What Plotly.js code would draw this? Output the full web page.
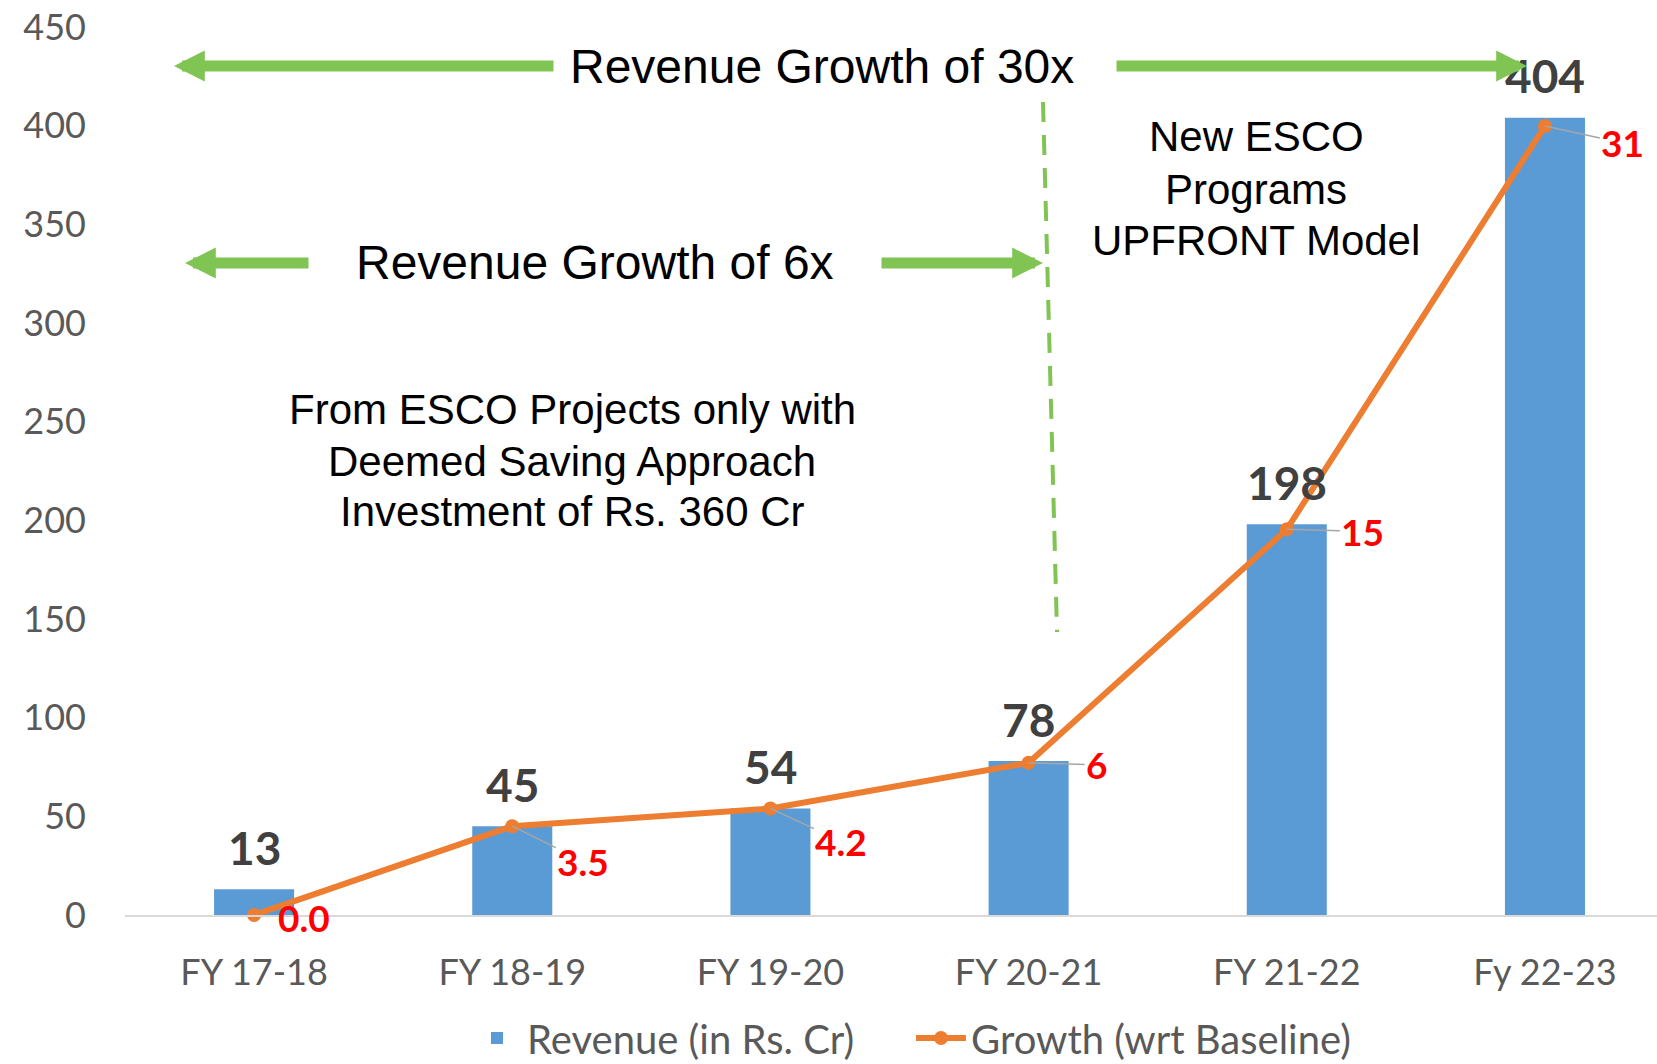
<!DOCTYPE html>
<html>
<head>
<meta charset="utf-8">
<script src="https://cdn.plot.ly/plotly-3.0.1.min.js"></script>
<style>
  html, body { margin: 0; padding: 0; background: #fff; }
  #chart { width: 1657px; height: 1064px; }
</style>
</head>
<body>
<div id="chart"></div>
<script>
// ---- data ----
const categories = ['FY 17-18', 'FY 18-19', 'FY 19-20', 'FY 20-21', 'FY 21-22', 'Fy 22-23'];
const revenue = [13, 45, 54, 78, 198, 404];
const growth = [0, 3.5, 4.2, 6, 15.2, 31.1];
const growthLabels = ['0.0', '3.5', '4.2', '6', '15', '31'];
const yTicks = [0, 50, 100, 150, 200, 250, 300, 350, 400, 450];
const seriesNames = ['Revenue (in Rs. Cr)', 'Growth (wrt Baseline)'];

// ---- styling / placement ----
const W = 1657, H = 1064;
const L = 125, T = 27, B = 149;
const plotW = W - L, plotH = H - T - B;
const px2x = px => (px - L) / plotW;
const py2y = py => (H - B - py) / plotH;
const GREEN = '#80C553';
const labelOffsets = [[50, 2, false], [71, 35, true], [71, 33, true], [68, 2, true], [76, 2, true], [78, 17, true]];

const traces = [
  {
    type: 'bar',
    x: categories,
    y: revenue,
    name: seriesNames[0],
    marker: { color: '#5B9BD5' },
    hoverinfo: 'x+y'
  },
  {
    type: 'scatter',
    mode: 'lines+markers',
    x: categories,
    y: growth,
    yaxis: 'y2',
    name: seriesNames[1],
    line: { color: '#ED7D31', width: 6 },
    marker: { color: '#ED7D31', size: 14 },
    cliponaxis: false
  }
];

const annotations = [];

// bar value labels
categories.forEach((c, i) => {
  annotations.push({
    x: c, y: revenue[i], xref: 'x', yref: 'y',
    text: String(revenue[i]), showarrow: false,
    yanchor: 'middle', yshift: 42,
    font: { family: 'Lato, sans-serif', size: 46, color: '#404040', weight: 700 }
  });
});

// growth labels with leader lines
categories.forEach((c, i) => {
  const [ox, oy, lead] = labelOffsets[i];
  const a = {
    x: c, y: growth[i], xref: 'x', yref: 'y2',
    text: growthLabels[i],
    font: { family: 'Lato, sans-serif', size: 37, color: '#FF0000', weight: 700 }
  };
  if (lead) {
    Object.assign(a, { showarrow: true, arrowhead: 0, arrowwidth: 1.5, arrowcolor: '#A6A6A6', ax: ox, ay: oy });
  } else {
    Object.assign(a, { showarrow: false, xshift: ox, yshift: -oy });
  }
  annotations.push(a);
});

// text blocks
const txtFont = { family: 'Liberation Sans, Arial, sans-serif', size: 42, color: '#000000' };
const bigFont = { family: 'Liberation Sans, Arial, sans-serif', size: 48, color: '#000000' };
function txt(text, px, py, font) {
  annotations.push({ xref: 'paper', yref: 'paper', x: px2x(px), y: py2y(py), text: text,
    showarrow: false, xanchor: 'center', yanchor: 'middle', font: font });
}
txt('Revenue Growth of 30x', 822, 66, bigFont);
txt('Revenue Growth of 6x', 595, 263, bigFont);
txt('From ESCO Projects only with', 572, 409, txtFont);
txt('Deemed Saving Approach', 572, 461, txtFont);
txt('Investment of Rs. 360 Cr', 572, 511, txtFont);
txt('New ESCO', 1256, 137, txtFont);
txt('Programs', 1256, 190, txtFont);
txt('UPFRONT Model', 1256, 241, txtFont);

// green arrows
function arrow(tipPx, tipPy, tailPx) {
  annotations.push({ xref: 'paper', yref: 'paper', x: px2x(tipPx), y: py2y(tipPy),
    ax: tailPx - tipPx, ay: 0, text: '', showarrow: true,
    arrowhead: 2, arrowsize: 0.56, arrowwidth: 11, arrowcolor: GREEN });
}
arrow(174, 66, 555);
arrow(1527, 66, 1115);
arrow(185, 263, 310);
arrow(1043, 263, 880);

const shapes = [
  { type: 'line', xref: 'paper', yref: 'paper',
    x0: px2x(1043), y0: py2y(102), x1: px2x(1057), y1: py2y(632),
    line: { color: GREEN, width: 4, dash: '20px,13px' } }
];

const layout = {
  width: W, height: H,
  margin: { l: L, r: 0, t: T, b: B, pad: 0 },
  paper_bgcolor: '#ffffff',
  plot_bgcolor: '#ffffff',
  showlegend: true,
  bargap: 0.69,
  xaxis: {
    type: 'category',
    range: [-0.5, 5.434],
    showline: true, linecolor: '#D9D9D9', linewidth: 2,
    showgrid: false, zeroline: false, ticks: '',
    ticklabelstandoff: 25,
    tickfont: { family: 'Lato, sans-serif', size: 36, color: '#595959' }
  },
  yaxis: {
    range: [0, 450],
    tickvals: yTicks,
    showgrid: false, zeroline: false, showline: false, ticks: '',
    ticklabelstandoff: 38,
    tickfont: { family: 'Lato, sans-serif', size: 36, color: '#595959' }
  },
  yaxis2: {
    overlaying: 'y', side: 'right', range: [0, 35], visible: false
  },
  legend: {
    orientation: 'h',
    xref: 'container', yref: 'container',
    x: 911 / W, y: (H - 1038) / H,
    xanchor: 'center', yanchor: 'middle',
    font: { family: 'Lato, sans-serif', size: 40, color: '#595959' },
    itemwidth: 50,
    entrywidth: 379, entrywidthmode: 'pixels'
  },
  annotations: annotations,
  shapes: shapes
};

Plotly.newPlot('chart', traces, layout, { displayModeBar: false, staticPlot: true });
</script>
</body>
</html>
